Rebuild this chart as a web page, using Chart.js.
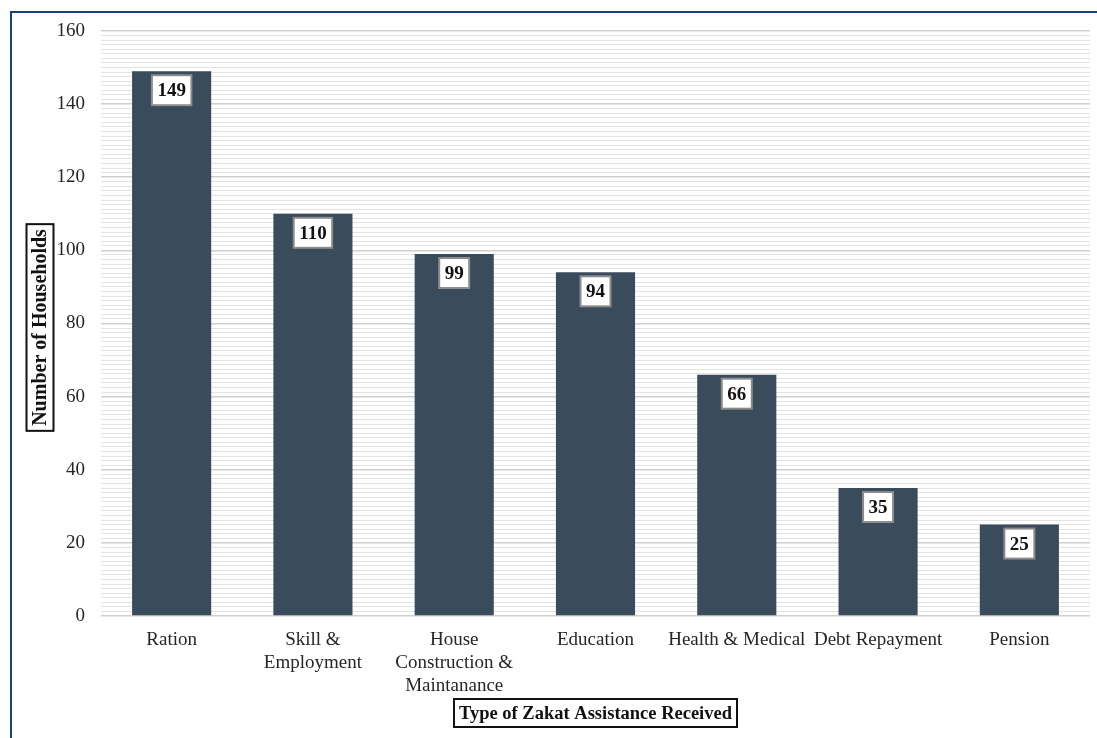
<!DOCTYPE html>
<html>
<head>
<meta charset="utf-8">
<title>Type of Zakat Assistance Received</title>
<script src="https://cdn.jsdelivr.net/npm/chart.js@4/dist/chart.umd.min.js"></script>
<style>
  html, body { margin: 0; padding: 0; background: #ffffff; }
  #wrap { position: relative; width: 1097px; height: 738px; }
</style>
</head>
<body>
<div id="wrap"><canvas id="chart" width="1097" height="738"></canvas></div>
<script>
// Assistance categories (multi-line labels as arrays)
const categories = [
  'Ration',
  ['Skill &', 'Employment'],
  ['House', 'Construction &', 'Maintanance'],
  'Education',
  'Health & Medical',
  'Debt Repayment',
  'Pension'
];
// Number of households receiving each type of assistance
const households = [149, 110, 99, 94, 66, 35, 25];
// Value axis range and labelled tick interval
const axisMin = 0;
const axisMax = 160;
const majorStep = 20;
const minorStep = 1.25;

const xTitle = 'Type of Zakat Assistance Received';
const yTitle = 'Number of Households';

const SERIF = "'Liberation Serif', 'Times New Roman', serif";
const BAR_COLOR = '#3a4b5c';

// White boxed value labels just inside the top of each bar
const valueBoxes = {
  id: 'valueBoxes',
  afterDatasetsDraw(chart) {
    const ctx = chart.ctx;
    const meta = chart.getDatasetMeta(0);
    ctx.save();
    ctx.font = 'bold 19px ' + SERIF;
    ctx.textAlign = 'center';
    ctx.textBaseline = 'middle';
    meta.data.forEach((bar, i) => {
      const txt = String(chart.data.datasets[0].data[i]);
      const w = ctx.measureText(txt).width + 11;
      const h = 30;
      const top = bar.y + 4;
      const left = bar.x - w / 2;
      ctx.fillStyle = '#ffffff';
      ctx.fillRect(left, top, w, h);
      ctx.strokeStyle = '#8c8c8c';
      ctx.lineWidth = 2;
      ctx.strokeRect(left, top, w, h);
      ctx.fillStyle = '#111111';
      ctx.fillText(txt, bar.x, top + h / 2 + 1);
    });
    ctx.restore();
  }
};

// Boxed axis titles and the frame lines along the top and left edges
const frameAndTitles = {
  id: 'frameAndTitles',
  afterDraw(chart) {
    const ctx = chart.ctx;
    const area = chart.chartArea;
    ctx.save();
    // frame
    ctx.strokeStyle = '#1d3c7c';
    ctx.lineWidth = 2;
    ctx.beginPath();
    ctx.moveTo(1097, 12);
    ctx.lineTo(11, 12);
    ctx.lineTo(11, 738);
    ctx.stroke();

    ctx.textAlign = 'center';
    ctx.textBaseline = 'middle';
    ctx.fillStyle = '#111111';
    ctx.strokeStyle = '#111111';
    ctx.lineWidth = 2;

    // x-axis title
    ctx.font = 'bold 18.5px ' + SERIF;
    const cx = (area.left + area.right) / 2;
    const cy = 713;
    const xw = ctx.measureText(xTitle).width + 10;
    ctx.fillText(xTitle, cx, cy + 1);
    ctx.strokeRect(cx - xw / 2, cy - 14, xw, 28);

    // y-axis title (rotated)
    ctx.font = 'bold 20px ' + SERIF;
    const ycx = 40;
    const ycy = (area.top + area.bottom) / 2 + 4;
    const yw = ctx.measureText(yTitle).width + 10;
    ctx.translate(ycx, ycy);
    ctx.rotate(-Math.PI / 2);
    ctx.fillText(yTitle, 0, 1);
    ctx.strokeRect(-yw / 2, -13.5, yw, 27);
    ctx.restore();
  }
};

new Chart(document.getElementById('chart'), {
  type: 'bar',
  data: {
    labels: categories,
    datasets: [{
      data: households,
      backgroundColor: BAR_COLOR,
      borderWidth: 0,
      barPercentage: 0.56,
      categoryPercentage: 1.0
    }]
  },
  options: {
    responsive: false,
    devicePixelRatio: 1,
    animation: false,
    layout: { padding: { left: 0, right: 7, top: 31, bottom: 0 } },
    plugins: {
      legend: { display: false },
      tooltip: { enabled: false },
      title: { display: false }
    },
    scales: {
      x: {
        grid: { display: false, drawTicks: false },
        border: { display: false },
        ticks: {
          color: '#262626',
          font: { family: SERIF, size: 19, lineHeight: 1.21 },
          padding: 13,
          maxRotation: 0,
          autoSkip: false
        },
        afterFit(scale) { scale.height = 122; }
      },
      y: {
        min: axisMin,
        max: axisMax,
        grid: {
          drawTicks: false,
          color: ctx => (ctx.tick && ctx.tick.value % majorStep === 0) ? '#d0d0d0' : '#e3e3e3',
          lineWidth: ctx => (ctx.tick && ctx.tick.value % majorStep === 0) ? 1.6 : 1
        },
        border: { display: false },
        ticks: {
          stepSize: minorStep,
          autoSkip: false,
          color: '#262626',
          font: { family: SERIF, size: 19 },
          padding: 16,
          callback: v => (v % majorStep === 0 ? String(v) : '')
        },
        afterFit(scale) { scale.width = 101; }
      }
    }
  },
  plugins: [valueBoxes, frameAndTitles]
});
</script>
</body>
</html>
